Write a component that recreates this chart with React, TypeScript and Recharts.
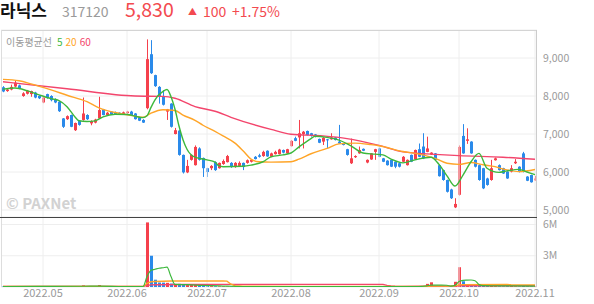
import React from "react";
import { ComposedChart, Bar, Line, XAxis, YAxis, CartesianGrid, ReferenceLine } from "recharts";

const RED = "#f5404c";
const BLUE = "#2a8aea";
const GREEN = "#3cb83c";
const ORANGE = "#ffa528";
const PINK = "#f3456c";
const FONT = "'Noto Sans CJK KR', 'Noto Sans', sans-serif";

// trading days
const aprDays = [18, 19, 20, 21, 22, 25, 26, 27, 28, 29];
const mayDays = [2, 3, 4, 6, 9, 10, 11, 12, 13, 16, 17, 18, 19, 20, 23, 24, 25, 26, 27, 30, 31];
const junDays = [2, 3, 7, 8, 9, 10, 13, 14, 15, 16, 17, 20, 21, 22, 23, 24, 27, 28, 29, 30];
const julDays = [1, 4, 5, 6, 7, 8, 11, 12, 13, 14, 15, 18, 19, 20, 21, 22, 25, 26, 27, 28, 29];
const augDays = [1, 2, 3, 4, 5, 8, 9, 10, 11, 12, 16, 17, 18, 19, 22, 23, 24, 25, 26, 29, 30, 31];
const sepDays = [1, 2, 5, 6, 7, 8, 13, 14, 15, 16, 19, 20, 21, 22, 23, 26, 27, 28, 29, 30];
const octDays = [4, 5, 6, 7, 11, 12, 13, 14, 17, 18, 19, 20, 21, 24, 25, 26, 27, 28, 31];
const novDays = [1];

const monthLabels = ["2022.05", "2022.06", "2022.07", "2022.08", "2022.09", "2022.10", "2022.11"];
const priceTicks = [5000, 6000, 7000, 8000, 9000];
const volumeTicks = [3000000, 6000000];

const open = [
  8230, 8130, 8170, 8250, 8280, 8000, 8060, 8050, 8090, 8000,
  7830, 8050, 8000, 7920, 7850, 7410, 7390, 7500, 7100, 7350,
  7370, 7500, 7280, 7300, 7410, 7650, 7500, 7590, 7580, 7560,
  7520, 7550, 7590, 7540, 7440, 7370, 7680, 9100, 8550, 8240,
  8000, 7590, 7800, 7000, 7090, 6450, 5990, 6320, 6180, 6620,
  6370, 6100, 6100, 6260, 6100, 6210, 6260, 6240, 6130, 6160,
  6240, 6240, 6270, 6400, 6440, 6420, 6560, 6400, 6470, 6470,
  6580, 6490, 6680, 6890, 6910, 7000, 7080, 7020, 6990, 6870,
  6800, 6860, 6860, 6910, 6800, 6750, 6600, 6230, 6390, 6490,
  6610, 6250, 6330, 6530, 6620, 6360, 6300, 6320, 6270, 6230,
  6270, 6180, 6450, 6330, 6600, 6670, 6530, 6460, 6490, 6180,
  6050, 5790, 5540, 5070, 5400, 6950, 6820, 6800, 6320, 6180,
  6100, 5830, 5790, 6310, 6180, 6100, 6010, 6010, 6230, 6140,
  6490, 5880, 5920, 5780,
];
const high = [
  8260, 8200, 8300, 8400, 8300, 8100, 8160, 8140, 8110, 8020,
  7980, 8060, 8020, 7940, 7860, 7420, 7490, 7510, 7300, 7360,
  7960, 7520, 7360, 7400, 7980, 7660, 7580, 7600, 7590, 7570,
  7590, 7610, 7610, 7550, 7450, 7390, 9490, 9470, 8560, 8260,
  8150, 7660, 7810, 7160, 7100, 6460, 6320, 6460, 6700, 6650,
  6380, 6110, 6180, 6280, 6250, 6330, 6450, 6260, 6260, 6280,
  6250, 6330, 6340, 6420, 6480, 6560, 6570, 6510, 6560, 6610,
  6590, 6610, 6840, 6930, 7370, 7080, 7090, 7030, 7000, 6880,
  6920, 6870, 7020, 6920, 7240, 6760, 6610, 6880, 6440, 6670,
  6620, 6330, 6500, 6610, 6640, 6370, 6310, 6330, 6280, 6240,
  6420, 6330, 6460, 6590, 6750, 7020, 6930, 6520, 6500, 6200,
  6060, 5800, 5560, 5310, 6700, 7260, 7150, 6810, 6330, 6200,
  6110, 5850, 6320, 6380, 6200, 6110, 6020, 6180, 6340, 6150,
  6530, 5890, 5930, 5900,
];
const low = [
  8100, 8110, 8150, 8230, 8180, 7980, 8040, 7980, 7940, 7920,
  7810, 7930, 7860, 7810, 7580, 7160, 7370, 7180, 7080, 7220,
  7350, 7370, 7230, 7280, 7400, 7490, 7480, 7510, 7500, 7500,
  7510, 7530, 7490, 7380, 7340, 7290, 7650, 8580, 8240, 7800,
  7750, 7370, 7170, 6990, 6430, 5960, 5970, 6300, 6170, 6300,
  5870, 5870, 6050, 6030, 6090, 6190, 6250, 6110, 6110, 6140,
  6050, 6220, 6250, 6330, 6380, 6400, 6400, 6390, 6460, 6460,
  6490, 6480, 6670, 6810, 6620, 6620, 6960, 6930, 6910, 6760,
  6710, 6620, 6850, 6830, 6740, 6700, 6430, 6210, 6370, 6480,
  6550, 6230, 6320, 6320, 6390, 6260, 6170, 6130, 6100, 6120,
  6260, 6170, 6260, 6320, 6390, 6340, 6520, 6450, 6300, 5880,
  5770, 5460, 5290, 5050, 5380, 6480, 6740, 6480, 6120, 5770,
  5550, 5640, 5770, 6300, 6040, 5950, 5820, 5990, 6210, 5990,
  5990, 5760, 5720, 5770,
];
const close = [
  8120, 8170, 8240, 8350, 8200, 8070, 8140, 8130, 7960, 7940,
  7960, 7950, 7890, 7830, 7600, 7190, 7470, 7190, 7290, 7240,
  7540, 7390, 7340, 7380, 7630, 7500, 7560, 7520, 7520, 7520,
  7570, 7590, 7500, 7390, 7350, 7300, 8970, 8600, 8260, 7980,
  7770, 7650, 7190, 7100, 6450, 5990, 6160, 6450, 6660, 6320,
  6100, 6000, 6160, 6050, 6240, 6290, 6420, 6130, 6240, 6240,
  6130, 6310, 6320, 6340, 6400, 6530, 6410, 6490, 6530, 6590,
  6510, 6600, 6820, 6820, 7020, 7060, 6970, 6950, 6930, 6770,
  6900, 6840, 6910, 6840, 6750, 6710, 6450, 6360, 6420, 6580,
  6560, 6320, 6490, 6600, 6400, 6270, 6180, 6140, 6140, 6140,
  6400, 6320, 6270, 6580, 6400, 6360, 6620, 6510, 6320, 5890,
  5790, 5480, 5310, 5160, 6660, 6490, 6860, 6490, 6140, 5790,
  5570, 5660, 6100, 6360, 6050, 5960, 5830, 6100, 6270, 6010,
  6010, 5770, 5730, 5830,
];
const volume = [
  45000, 38000, 52000, 60000, 40000, 55000, 35000, 42000, 38000, 30000,
  40000, 35000, 30000, 32000, 60000, 70000, 45000, 50000, 55000, 35000,
  160000, 60000, 40000, 35000, 190000, 70000, 40000, 35000, 30000, 28000,
  30000, 35000, 32000, 40000, 38000, 45000, 6200000, 3000000, 700000, 430000,
  420000, 400000, 330000, 280000, 300000, 260000, 230000, 200000, 240000, 150000,
  140000, 100000, 80000, 70000, 60000, 55000, 50000, 45000, 40000, 42000,
  38000, 40000, 45000, 38000, 50000, 55000, 42000, 48000, 40000, 36000,
  44000, 50000, 70000, 60000, 90000, 65000, 55000, 45000, 40000, 42000,
  50000, 45000, 40000, 38000, 60000, 45000, 50000, 55000, 40000, 42000,
  35000, 38000, 40000, 36000, 45000, 40000, 38000, 42000, 40000, 35000,
  45000, 40000, 38000, 45000, 50000, 60000, 300000, 450000, 80000, 60000,
  70000, 65000, 90000, 500000, 1900000, 550000, 200000, 150000, 120000, 130000,
  140000, 90000, 150000, 80000, 70000, 60000, 80000, 90000, 60000, 50000,
  140000, 70000, 60000, 70000,
];

// moving averages: [trading-day index, value]
const ma5Knots = [
  [0, 8180], [3, 8210], [6, 8140], [9, 8030], [12, 7930], [14, 7880], [16, 7720], [18, 7450],
  [19, 7350], [21, 7330], [23, 7345], [25, 7450], [28, 7520], [31, 7515], [33, 7470], [35, 7430],
  [36, 7480], [37, 7700], [38, 7900], [40, 8120], [41, 8170], [42, 7980], [43, 7650], [44, 7210],
  [45, 6850], [46, 6600], [48, 6390], [51, 6320], [53, 6260], [54, 6160], [55, 6140], [60, 6150],
  [62, 6180], [65, 6270], [67, 6400], [70, 6450], [72, 6500], [74, 6660], [77, 6880], [78, 6940],
  [81, 6910], [84, 6840], [87, 6690], [90, 6500], [93, 6470], [95, 6450], [97, 6340], [100, 6240],
  [103, 6320], [107, 6390], [109, 6200], [111, 5900], [113, 5630], [115, 5920], [117, 6270],
  [119, 6490], [121, 6100], [124, 5990], [126, 6030], [129, 6070], [131, 6000], [133, 5930],
];
const ma20Knots = [
  [0, 8437], [4, 8400], [7, 8320], [12, 8160], [16, 8020], [21, 7850], [24, 7690], [29, 7545],
  [33, 7470], [35, 7440], [37, 7550], [40, 7640], [43, 7620], [45, 7500], [48, 7360], [50, 7230],
  [53, 7070], [55, 6950], [58, 6760], [60, 6560], [62, 6340], [64, 6270], [67, 6260], [72, 6270],
  [74, 6340], [77, 6480], [81, 6620], [84, 6740], [88, 6760], [92, 6720], [94, 6690], [100, 6540],
  [104, 6470], [108, 6360], [111, 6230], [114, 6200], [117, 6250], [120, 6190], [123, 6140],
  [125, 6080], [129, 6010], [133, 6065],
];
const ma60Knots = [
  [0, 8375], [16, 8190], [33, 8000], [40, 7990], [43, 7940], [48, 7720], [53, 7600], [57, 7440],
  [67, 7122], [72, 6995], [80, 6950], [86, 6880], [94, 6700], [100, 6530], [108, 6465],
  [114, 6430], [125, 6390], [133, 6335],
];
const volMa5Knots = [
  [0, 45000], [20, 70000], [24, 80000], [30, 45000], [35, 40000], [36, 1000000], [37, 1600000],
  [38, 1700000], [39, 1800000], [40, 1850000], [41, 1900000], [42, 1000000], [43, 250000],
  [46, 220000], [50, 150000], [55, 90000], [60, 50000], [104, 50000], [106, 110000], [107, 180000],
  [111, 170000], [112, 80000], [113, 150000], [114, 530000], [115, 640000], [116, 660000],
  [117, 670000], [118, 600000], [119, 230000], [120, 130000], [123, 110000], [133, 80000],
];
const volMa20Knots = [
  [0, 45000], [35, 45000], [36, 350000], [37, 500000], [38, 530000], [42, 570000], [55, 580000],
  [56, 560000], [57, 270000], [58, 120000], [60, 80000], [75, 55000], [105, 50000], [106, 65000],
  [107, 85000], [112, 90000], [113, 110000], [114, 200000], [115, 230000], [126, 235000],
  [127, 210000], [133, 200000],
];
const volMa60Knots = [
  [0, 45000], [35, 45000], [36, 150000], [37, 200000], [38, 215000], [45, 240000], [55, 250000],
  [95, 255000], [96, 160000], [97, 100000], [98, 70000], [100, 60000], [106, 65000], [107, 72000],
  [113, 80000], [114, 110000], [115, 120000], [133, 125000],
];

const dates: string[] = [];
const addMonth = (m: number, days: number[]) =>
  days.forEach((d) => dates.push(`2022-${String(m).padStart(2, "0")}-${String(d).padStart(2, "0")}`));
addMonth(4, aprDays);
addMonth(5, mayDays);
addMonth(6, junDays);
addMonth(7, julDays);
addMonth(8, augDays);
addMonth(9, sepDays);
addMonth(10, octDays);
addMonth(11, novDays);

const monthStarts = [
  [5, mayDays],
  [6, junDays],
  [7, julDays],
  [8, augDays],
  [9, sepDays],
  [10, octDays],
  [11, novDays],
].map(([m, d]: any) => `2022-${String(m).padStart(2, "0")}-${String(d[0]).padStart(2, "0")}`);

const fromKnots = (knots: number[][]) => {
  const arr: (number | null)[] = dates.map(() => null);
  knots.forEach(([i, v]) => (arr[i] = v));
  return arr;
};
const ma5 = fromKnots(ma5Knots);
const ma20 = fromKnots(ma20Knots);
const ma60 = fromKnots(ma60Knots);
const vma5 = fromKnots(volMa5Knots);
const vma20 = fromKnots(volMa20Knots);
const vma60 = fromKnots(volMa60Knots);

const table = dates.map((date, i) => ({
  date,
  open: open[i],
  high: high[i],
  low: low[i],
  close: close[i],
  range: [low[i], high[i]],
  volume: volume[i],
  up: close[i] >= open[i],
  ma5: ma5[i],
  ma20: ma20[i],
  ma60: ma60[i],
  vma5: vma5[i],
  vma20: vma20[i],
  vma60: vma60[i],
}));

const Candle = (props: any) => {
  const { x, y, width, height, payload } = props;
  if (payload == null || x == null) return null;
  const { open: o, close: c, high: h, low: l } = payload;
  const color = c >= o ? RED : BLUE;
  const top = Math.min(y, y + height);
  const hgt = Math.abs(height);
  const ratio = h > l ? hgt / (h - l) : 0;
  const bodyTop = top + (h - Math.max(o, c)) * ratio;
  const bodyH = Math.max(1, Math.abs(o - c) * ratio);
  const rx = Math.round(x + width / 2 - 1.5);
  const wx = rx + 1.5;
  return (
    <g>
      <line x1={wx} x2={wx} y1={top} y2={top + Math.max(hgt, 1)} stroke={color} strokeWidth={1} />
      <rect x={rx} y={bodyTop} width={3} height={bodyH} fill={color} />
    </g>
  );
};

const VolBar = (props: any) => {
  const { x, y, width, height, payload } = props;
  if (payload == null || x == null) return null;
  const rx = Math.round(x + width / 2 - 1.5);
  const hgt = Math.abs(height);
  return <rect x={rx} y={Math.min(y, y + height)} width={3} height={Math.max(hgt, 0.5)} fill={payload.up ? RED : BLUE} />;
};

const tickStyle = { fill: "#9a9a9a", fontSize: 10.5, fontFamily: FONT };

export default function App() {
  return (
    <div style={{ position: "absolute", left: 0, top: 0, width: 594, height: 304, background: "#fff", fontFamily: FONT, overflow: "hidden" }}>
      <div style={{ position: "absolute", left: 0, top: 0 }}>
        <ComposedChart width={594} height={217} data={table} margin={{ top: 30, right: 0, bottom: 0, left: 1 }}>
          <CartesianGrid vertical={false} stroke="#eeeeee" />
          <XAxis dataKey="date" hide />
          <YAxis
            orientation="right"
            width={57}
            domain={[4816, 9737]}
            allowDataOverflow
            ticks={priceTicks}
            tickFormatter={(v: number) => v.toLocaleString("en-US")}
            tick={tickStyle}
            tickLine={false}
            axisLine={false}
            tickSize={0}
            tickMargin={6}
            interval={0}
          />
          {monthStarts.map((d) => (
            <ReferenceLine key={d} x={d} stroke="#eeeeee" />
          ))}
          <Bar dataKey="range" shape={Candle} barSize={3} isAnimationActive={false} />
          <Line type="monotone" dataKey="ma60" stroke={PINK} strokeWidth={1.4} dot={false} connectNulls isAnimationActive={false} />
          <Line type="monotone" dataKey="ma20" stroke={ORANGE} strokeWidth={1.4} dot={false} connectNulls isAnimationActive={false} />
          <Line type="monotone" dataKey="ma5" stroke={GREEN} strokeWidth={1.4} dot={false} connectNulls isAnimationActive={false} />
        </ComposedChart>
      </div>
      <div style={{ position: "absolute", left: 0, top: 217 }}>
        <ComposedChart width={594} height={87} data={table} margin={{ top: 0, right: 0, bottom: 0, left: 1 }}>
          <CartesianGrid vertical={false} stroke="#eeeeee" />
          <XAxis
            dataKey="date"
            height={17}
            ticks={monthStarts}
            interval={0}
            tickFormatter={(v: string) => monthLabels[monthStarts.indexOf(v)] ?? ""}
            tick={{ fill: "#9a9a9a", fontSize: 11, fontFamily: FONT }}
            tickLine={false}
            axisLine={false}
            tickSize={0}
            tickMargin={2}
          />
          <YAxis
            orientation="right"
            width={57}
            domain={[0, 6720000]}
            allowDataOverflow
            ticks={volumeTicks}
            tickFormatter={(v: number) => `${v / 1000000}M`}
            tick={tickStyle}
            tickLine={false}
            axisLine={false}
            tickSize={0}
            tickMargin={6}
            interval={0}
          />
          {monthStarts.map((d) => (
            <ReferenceLine key={d} x={d} stroke="#eeeeee" />
          ))}
          <Bar dataKey="volume" shape={VolBar} barSize={3} isAnimationActive={false} />
          <Line type="linear" dataKey="vma60" stroke={PINK} strokeWidth={1.4} dot={false} connectNulls isAnimationActive={false} />
          <Line type="linear" dataKey="vma20" stroke={ORANGE} strokeWidth={1.4} dot={false} connectNulls isAnimationActive={false} />
          <Line type="monotone" dataKey="vma5" stroke={GREEN} strokeWidth={1.2} dot={false} connectNulls isAnimationActive={false} />
        </ComposedChart>
      </div>
      {/* panel borders */}
      <div style={{ position: "absolute", left: 1, top: 30, width: 536, height: 1, background: "#d4d4d4" }} />
      <div style={{ position: "absolute", left: 1, top: 30, width: 1, height: 257, background: "#dddddd" }} />
      <div style={{ position: "absolute", left: 536, top: 30, width: 1, height: 257, background: "#cccccc" }} />
      <div style={{ position: "absolute", left: 0, top: 217, width: 537, height: 1, background: "#444444" }} />
      <svg width={594} height={304} style={{ position: "absolute", left: 0, top: 0, pointerEvents: "none" }}>
        <text x={0} y={17} fontSize={17} fontWeight="bold" fill="#111" fontFamily={FONT}>라닉스</text>
        <text x={62} y={17} fontSize={14} fill="#9a9a9a" fontFamily={FONT}>317120</text>
        <text x={125} y={17} fontSize={19.5} fill="#f34a4f" fontFamily={FONT}>5,830</text>
        <text x={188} y={15} fontSize={9} fill="#f34a4f" fontFamily={FONT}>▲</text>
        <text x={203} y={17} fontSize={14} fill="#f34a4f" fontFamily={FONT}>100</text>
        <text x={232} y={17} fontSize={14} fill="#f34a4f" fontFamily={FONT}>+1.75%</text>
        <text x={6} y={46} fontSize={10} fill="#9a9a9a" fontFamily={FONT}>
          이동평균선
          <tspan dx={5} fill={GREEN}>5</tspan>
          <tspan dx={3} fill={ORANGE}>20</tspan>
          <tspan dx={3} fill={PINK}>60</tspan>
        </text>
        <text x={6} y={209} fontSize={15} fontWeight="bold" fill="#d2d2d2" fontFamily={FONT}>© PAXNet</text>
      </svg>
    </div>
  );
}
